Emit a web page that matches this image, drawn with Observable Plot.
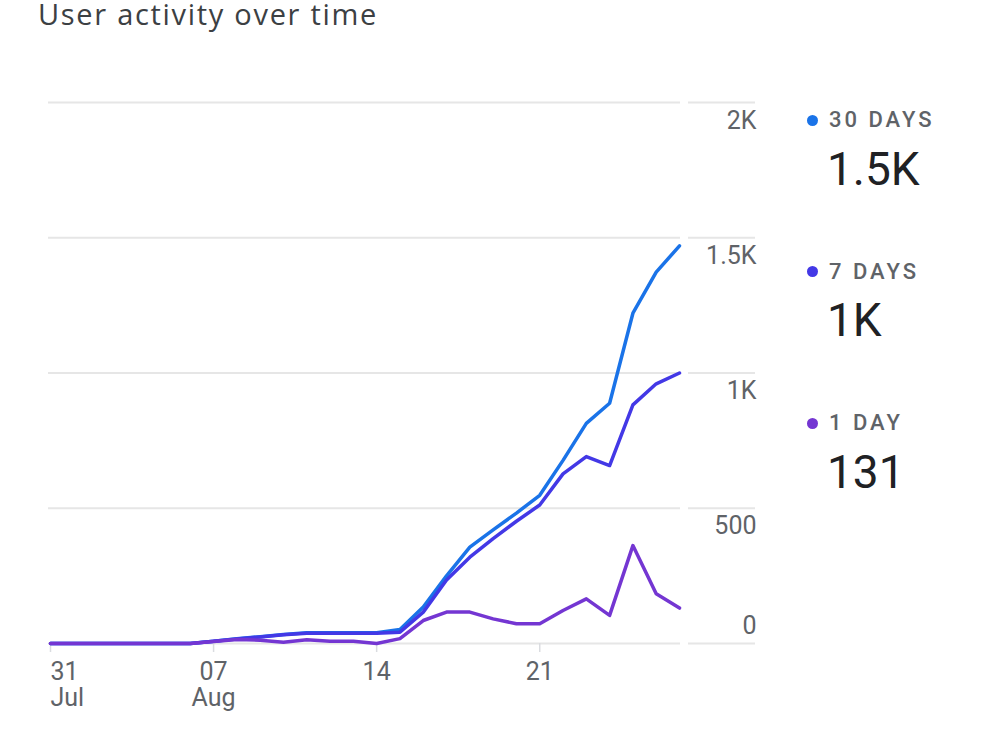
<!DOCTYPE html>
<html>
<head>
<meta charset="utf-8">
<script src="https://cdn.jsdelivr.net/npm/d3@7"></script>
<script src="https://cdn.jsdelivr.net/npm/@observablehq/plot@0.6"></script>
<style>
  body { margin: 0; background: #fff; font-family: Roboto, sans-serif; }
  #wrap { position: relative; width: 1000px; height: 750px; overflow: hidden; }
  #title { height: 40px; padding-left: 38px; box-sizing: border-box; padding-top: 0; font-family: "Open Sans", sans-serif; font-size: 29px; line-height: 27px; letter-spacing: 1.7px; color: #3c4043; white-space: nowrap; }
  #chart svg { display: block; }
  .lg-dot { position: absolute; width: 11px; height: 11px; border-radius: 50%; }
  .lg-label { position: absolute; font-size: 22px; line-height: 22px; font-weight: 500; letter-spacing: 3px; color: #5f6368; white-space: nowrap; }
  .lg-value { position: absolute; font-size: 46px; line-height: 46px; color: #202124; white-space: nowrap; }
</style>
</head>
<body>
<div id="wrap">
  <div id="title">User activity over time</div>
  <div id="chart"></div>
</div>
<script>
// Daily dates shown on the x axis
const days = [
  "2023-07-31", "2023-08-01", "2023-08-02", "2023-08-03", "2023-08-04", "2023-08-05", "2023-08-06",
  "2023-08-07", "2023-08-08", "2023-08-09", "2023-08-10", "2023-08-11", "2023-08-12", "2023-08-13",
  "2023-08-14", "2023-08-15", "2023-08-16", "2023-08-17", "2023-08-18", "2023-08-19", "2023-08-20",
  "2023-08-21", "2023-08-22", "2023-08-23", "2023-08-24", "2023-08-25", "2023-08-26", "2023-08-27"
];

// Active users per rolling window
const users30Day = [0, 0, 0, 0, 0, 0, 0, 8, 18, 25, 33, 40, 40, 40, 40, 52, 135, 250, 356, 420, 482, 548, 677, 814, 888, 1221, 1373, 1470];
const users7Day  = [0, 0, 0, 0, 0, 0, 0, 8, 17, 24, 32, 38, 38, 38, 38, 42, 116, 235, 319, 388, 452, 512, 627, 691, 658, 882, 960, 1000];
const users1Day  = [0, 0, 0, 0, 0, 0, 0, 7, 15, 12, 5, 14, 8, 8, 0, 18, 85, 116, 116, 91, 73, 73, 122, 165, 104, 362, 184, 131];

const seriesNames = ["30 DAYS", "7 DAYS", "1 DAY"];
const seriesValues = [users30Day, users7Day, users1Day];
const seriesColors = ["#1a73e8", "#4338e6", "#7436d2"];

// Axis ticks
const yTicks = [0, 500, 1000, 1500, 2000];
const xTickDays = ["2023-07-31", "2023-08-07", "2023-08-14", "2023-08-21"];
const xTickLabels = ["31\nJul", "07\nAug", "14", "21"];

const parse = d3.utcParse("%Y-%m-%d");
const compact = v => v >= 1000 ? `${Math.round(v / 100) / 10}K` : `${v}`;

const rows = seriesNames.flatMap((name, s) =>
  days.map((d, i) => ({date: parse(d), value: seriesValues[s][i], series: name}))
);

const xTicks = xTickDays.map(parse);
const xLabelOf = new Map(xTickDays.map((d, i) => [+parse(d), xTickLabels[i]]));
const xFormat = d => xLabelOf.get(+d);

const gridColor = "#e6e6e6";
const textColor = "#5f6368";

const xAxisCommon = {
  anchor: "bottom", tickSize: 9, tickPadding: 9, stroke: "#dadce0", strokeWidth: 1.5,
  fill: textColor, tickFormat: xFormat, lineHeight: 1.04, label: null
};
const yLabelCommon = {
  anchor: "right", tickSize: 0, tickPadding: 77, textAnchor: "end",
  fill: textColor, tickFormat: compact, label: null
};

const chart = Plot.plot({
  width: 1000,
  height: 710,
  marginLeft: 50,
  marginRight: 321,
  marginTop: 62,
  marginBottom: 107,
  style: {fontFamily: "Roboto, sans-serif", fontSize: "25px", color: textColor, background: "transparent"},
  x: {type: "utc", domain: [parse(days[0]), parse(days[days.length - 1])]},
  y: {domain: [0, 2000]},
  color: {domain: seriesNames, range: seriesColors},
  marks: [
    Plot.ruleY(yTicks, {stroke: gridColor, strokeWidth: 2, insetLeft: -2, insetRight: -1}),
    Plot.axisY(yTicks, {anchor: "right", tickSize: 67, dx: 8, fill: "none", stroke: gridColor, strokeWidth: 2, label: null}),
    Plot.axisY(yTicks.filter(t => t > 0), {...yLabelCommon, dy: 18}),
    Plot.axisY(yTicks.filter(t => t === 0), {...yLabelCommon, dy: -18}),
    Plot.axisX(xTicks.slice(0, 1), {...xAxisCommon, textAnchor: "start"}),
    Plot.axisX(xTicks.slice(1), {...xAxisCommon, textAnchor: "middle"}),
    Plot.line(rows, {x: "date", y: "value", z: "series", stroke: "series", strokeWidth: 3.5, strokeLinejoin: "round", strokeLinecap: "round"})
  ]
});
document.getElementById("chart").appendChild(chart);

// Legend: latest value of each series
const wrap = document.getElementById("wrap");
seriesNames.forEach((name, s) => {
  const vals = seriesValues[s];
  const labelCenter = 120 + s * 151.5;
  const valueCenter = labelCenter + 48;

  const dot = document.createElement("div");
  dot.className = "lg-dot";
  dot.style.left = "807px";
  dot.style.top = `${labelCenter - 5.5}px`;
  dot.style.background = seriesColors[s];
  wrap.appendChild(dot);

  const label = document.createElement("div");
  label.className = "lg-label";
  label.style.left = "829px";
  label.style.top = `${labelCenter - 10.8}px`;
  label.textContent = name;
  wrap.appendChild(label);

  const value = document.createElement("div");
  value.className = "lg-value";
  value.style.left = "827px";
  value.style.top = `${valueCenter - 22.5}px`;
  value.textContent = compact(vals[vals.length - 1]);
  wrap.appendChild(value);
});
</script>
</body>
</html>
